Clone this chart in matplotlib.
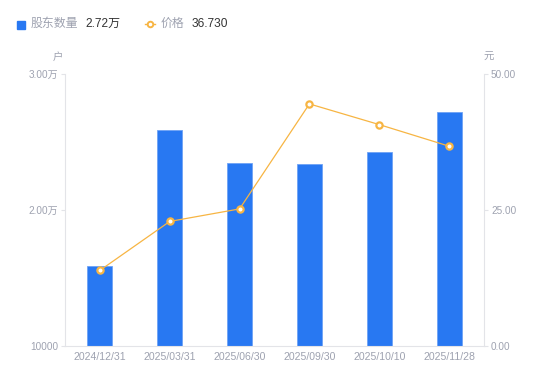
import matplotlib.pyplot as plt
from matplotlib.ticker import FixedLocator

plt.rcParams['font.family'] = ['Liberation Sans', 'Noto Sans CJK SC', 'DejaVu Sans']

dates = ['2024/12/31', '2025/03/31', '2025/06/30', '2025/09/30', '2025/10/10', '2025/11/28']
holders = [15880, 25880, 23460, 23380, 24260, 27200]
price = [13.9, 22.9, 25.2, 44.5, 40.7, 36.73]

left_ticks = [10000, 20000, 30000]
left_labels = ['10000', '2.00万', '3.00万']
right_ticks = [0, 25, 50]
right_labels = ['0.00', '25.00', '50.00']

bar_color = '#2878F2'
line_color = '#F7B543'
grey = '#9EA2B0'
axis_grey = '#E3E4E8'

fig = plt.figure(figsize=(5.5, 3.81), dpi=100)
ax = fig.add_axes([65 / 550, 35 / 381, 419 / 550, 272 / 381])
x = list(range(len(dates)))
ax.bar(x, holders, width=0.36, color=bar_color, edgecolor='#6FA3F5', linewidth=0.6, zorder=2)
ax.set_xlim(-0.5, len(dates) - 0.5)
ax.set_ylim(10000, 30000)
ax.set_xticks(x)
ax.set_xticklabels(dates)
ax.yaxis.set_major_locator(FixedLocator(left_ticks))
ax.set_yticklabels(left_labels)
ax.tick_params(axis='x', length=0, colors=grey, labelsize=7.6, pad=4.5)
ax.tick_params(axis='y', length=3, color=axis_grey, labelcolor=grey, labelsize=7.2, pad=2)
for s in ['top', 'right']:
    ax.spines[s].set_visible(False)
for s in ['left', 'bottom']:
    ax.spines[s].set_color(axis_grey)
    ax.spines[s].set_linewidth(0.8)

ax2 = ax.twinx()
ax2.plot(x, price, color=line_color, linewidth=0.9, marker='o', markersize=4.5,
         markerfacecolor='white', markeredgecolor=line_color, markeredgewidth=1.6, zorder=3)
ax2.set_ylim(0, 50)
ax2.yaxis.set_major_locator(FixedLocator(right_ticks))
ax2.set_yticklabels(right_labels)
ax2.tick_params(axis='y', length=3, color=axis_grey, labelcolor=grey, labelsize=7.2, pad=2)
for s in ['top', 'left', 'bottom']:
    ax2.spines[s].set_visible(False)
ax2.spines['right'].set_color(axis_grey)
ax2.spines['right'].set_linewidth(0.8)

fig.text(58 / 550, 1 - 57 / 381, '户', color=grey, fontsize=7.5, ha='center', va='center')
fig.text(489 / 550, 1 - 57 / 381, '元', color=grey, fontsize=7.5, ha='center', va='center')

# legend
ly = 1 - 24 / 381
fig.patches.append(plt.Rectangle((17 / 550, 1 - 28.5 / 381), 8 / 550, 8 / 381,
                                 transform=fig.transFigure, color=bar_color))
fig.text(31 / 550, ly, '股东数量', color=grey, fontsize=8.6, va='center')
fig.text(85 / 550, ly, '2.72万', color='#333333', fontsize=8.6, va='center')
fig.add_artist(plt.Line2D([145 / 550, 155 / 550], [ly, ly], transform=fig.transFigure,
                          color=line_color, linewidth=1))
fig.add_artist(plt.Line2D([150 / 550], [ly], transform=fig.transFigure, marker='o',
                          markersize=4, markerfacecolor='white', markeredgecolor=line_color,
                          markeredgewidth=1.4))
fig.text(161 / 550, ly, '价格', color=grey, fontsize=8.6, va='center')
fig.text(192 / 550, ly, '36.730', color='#333333', fontsize=8.6, va='center')

fig.savefig('out.png', dpi=100)
